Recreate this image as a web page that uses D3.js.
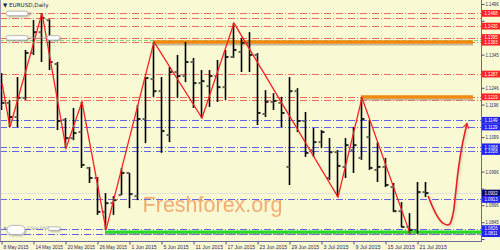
<!DOCTYPE html>
<html><head><meta charset="utf-8">
<script src="https://cdn.jsdelivr.net/npm/d3@7/dist/d3.min.js"></script>
<style>html,body{margin:0;padding:0;background:#f9f9d3;}svg{display:block}</style>
</head><body>
<svg id="c" width="500" height="250"></svg>
<script>
// ---------- data ----------
const dates = ["2015-05-08","2015-05-11","2015-05-12","2015-05-13","2015-05-14","2015-05-15","2015-05-18","2015-05-19","2015-05-20","2015-05-21","2015-05-22","2015-05-25","2015-05-26","2015-05-27","2015-05-28","2015-05-29","2015-06-01","2015-06-02","2015-06-03","2015-06-04","2015-06-05","2015-06-08","2015-06-09","2015-06-10","2015-06-11","2015-06-12","2015-06-15","2015-06-16","2015-06-17","2015-06-18","2015-06-19","2015-06-22","2015-06-23","2015-06-24","2015-06-25","2015-06-26","2015-06-29","2015-06-30","2015-07-01","2015-07-02","2015-07-03","2015-07-06","2015-07-07","2015-07-08","2015-07-09","2015-07-10","2015-07-13","2015-07-14","2015-07-15","2015-07-16","2015-07-17","2015-07-20","2015-07-21","2015-07-22"];
const open  = [1.1239,1.1201,1.1159,1.1216,1.1350,1.1412,1.1448,1.1317,1.1150,1.1096,1.1114,1.1007,1.0977,1.0876,1.0902,1.0926,1.0992,1.0923,1.1153,1.1272,1.1236,1.1105,1.1293,1.1281,1.1323,1.1260,1.1251,1.1281,1.1248,1.1338,1.1353,1.1380,1.1344,1.1168,1.1204,1.1201,1.1010,1.1236,1.1147,1.1060,1.1084,1.0977,1.1054,1.1010,1.1060,1.1037,1.1099,1.1001,1.1010,1.0950,1.0878,1.0831,1.0822,1.0935];
const high  = [1.1290,1.1210,1.1278,1.1359,1.1448,1.1469,1.1450,1.1323,1.1156,1.1186,1.1204,1.1010,1.0980,1.0932,1.0923,1.1007,1.0992,1.1195,1.1278,1.1383,1.1278,1.1308,1.1344,1.1383,1.1335,1.1299,1.1299,1.1329,1.1359,1.1439,1.1395,1.1412,1.1350,1.1239,1.1230,1.1219,1.1278,1.1245,1.1174,1.1126,1.1120,1.1096,1.1060,1.1096,1.1129,1.1216,1.1150,1.1084,1.1037,1.0962,1.0905,1.0872,1.0965,1.0965];
const low   = [1.1180,1.1129,1.1129,1.1210,1.1344,1.1323,1.1299,1.1120,1.1066,1.1090,1.1007,1.0962,1.0867,1.0822,1.0867,1.0926,1.0887,1.0911,1.1081,1.1219,1.1052,1.1084,1.1216,1.1263,1.1186,1.1156,1.1189,1.1204,1.1210,1.1335,1.1293,1.1293,1.1135,1.1159,1.1180,1.1129,1.0956,1.1114,1.1040,1.1040,1.1066,1.0971,1.0920,1.0977,1.0992,1.1031,1.1001,1.0965,1.0950,1.0876,1.0830,1.0811,1.0811,1.0920];
const close = [1.1201,1.1159,1.1216,1.1350,1.1412,1.1454,1.1323,1.1147,1.1096,1.1111,1.1016,1.0977,1.0876,1.0902,1.0911,1.0992,1.0929,1.1153,1.1275,1.1236,1.1117,1.1293,1.1281,1.1323,1.1260,1.1266,1.1281,1.1248,1.1338,1.1359,1.1380,1.1344,1.1171,1.1204,1.1207,1.1171,1.1236,1.1147,1.1052,1.1084,1.1114,1.1054,1.1013,1.1075,1.1075,1.1153,1.1007,1.1010,1.0956,1.0878,1.0831,1.0822,1.0935,1.0932];

const zigIdx   = [0,1,5,8,10,13,19,25,29,42,45,51];
const zigPrice = [1.1260,1.1129,1.1469,1.1066,1.1204,1.0822,1.1383,1.1156,1.1439,1.0920,1.1216,1.0811];

const xTickIdx    = [0,4,8,12,16,20,24,28,32,36,40,44,48,52];
const xTickLabels = ["8 May 2015","14 May 2015","20 May 2015","26 May 2015","1 Jun 2015","5 Jun 2015","11 Jun 2015","17 Jun 2015","23 Jun 2015","29 Jun 2015","3 Jul 2015","9 Jul 2015","15 Jul 2015","21 Jul 2015"];
const yTicks = [1.1496,1.1446,1.1395,1.1345,1.1296,1.1246,1.1196,1.1147,1.1099,1.1049,1.0996,1.0945,1.0896,1.0845,1.0795];

const redLevels      = [1.1468,1.1454,1.1430,1.1395,1.1383,1.1287,1.1219,1.1210];
const redLabelLevels = [1.1468,1.1430,1.1395,1.1383,1.1287,1.1219];
const blueLevels     = [1.1149,1.1129,1.1068,1.1058,1.0913,1.0826,1.0811];
const greenDashLevel = 1.1389;
const bidPrice       = 1.0932;
const greenLevel     = {start:13, price:1.0816};
const orangeLevels   = [{start:19, end:59, price:1.1383},{start:45, end:59, price:1.1219}];
const arrowIdx   = [53.4,54.3,55.2,56.0,56.5,56.8,57.15,57.65,58.25];
const arrowPrice = [1.0923,1.0873,1.0843,1.0838,1.0870,1.0925,1.1000,1.1075,1.1140];
const title = "EURUSD,Daily";
const watermark = "Freshforex.org";

// ---------- chart ----------
const BG = "#f9f9d3";
const PR = 481, PB = 241;
const svg = d3.select("#c");
svg.append("rect").attr("width",500).attr("height",250).attr("fill",BG);

const x = d3.scaleLinear().domain([0, 53]).range([1, 425]);
const y = d3.scaleLinear().domain([1.0795, 1.1496]).range([239, 4]);

const defs = svg.append("defs");
defs.append("clipPath").attr("id","clip").append("rect").attr("x",0).attr("y",0).attr("width",PR).attr("height",PB);
const blur = defs.append("filter").attr("id","sh").attr("x","-20%").attr("y","-50%").attr("width","140%").attr("height","200%");
blur.append("feGaussianBlur").attr("stdDeviation",0.8);
defs.append("marker").attr("id","ah").attr("viewBox","-8 -5 10 10").attr("markerWidth",8).attr("markerHeight",8)
  .attr("refX",0).attr("refY",0).attr("orient","auto").attr("markerUnits","userSpaceOnUse")
  .append("path").attr("d","M-6,-3.5 L0,0 L-6,3.5").attr("fill","none").attr("stroke","#e82020").attr("stroke-width",1.5);

const plot = svg.append("g").attr("clip-path","url(#clip)");

// watermark
plot.append("text").attr("x", x(17.7)).attr("y", y(1.0875)).text(watermark)
  .attr("font-family","Liberation Sans, Arial, sans-serif").attr("font-size",21.5)
  .attr("fill","#f2a468").attr("opacity",0.9);

// level lines
const DD = "7,2,1,2";
function level(p, color, dash, w) {
  plot.append("line").attr("x1",0).attr("x2",PR).attr("y1",Math.round(y(p))+0.5).attr("y2",Math.round(y(p))+0.5)
    .attr("stroke",color).attr("stroke-width",w).attr("stroke-dasharray",dash);
}
redLevels.forEach(p => level(p, "#f06a5e", DD, 1));
blueLevels.forEach(p => level(p, "#6464e6", DD, 1));
level(greenDashLevel, "#7ed87e", "4,2", 1);
level(bidPrice, "#e2e2d8", null, 1);

// orange levels with shadow
orangeLevels.forEach(o => {
  const yy = Math.round(y(o.price));
  plot.append("line").attr("x1",x(o.start)).attr("x2",x(o.end)).attr("y1",yy+2.5).attr("y2",yy+2.5)
    .attr("stroke","#a8a090").attr("stroke-width",2).attr("opacity",0.7);
  plot.append("line").attr("x1",x(o.start)).attr("x2",x(o.end)).attr("y1",yy).attr("y2",yy)
    .attr("stroke","#f28a12").attr("stroke-width",3.5);
});

// green level
{
  const yy = Math.round(y(greenLevel.price));
  plot.append("line").attr("x1",x(greenLevel.start)).attr("x2",PR).attr("y1",yy+2).attr("y2",yy+2)
    .attr("stroke","#8a7a9a").attr("stroke-width",1.5).attr("stroke-dasharray","3,1");
  plot.append("line").attr("x1",x(greenLevel.start)).attr("x2",PR).attr("y1",yy).attr("y2",yy)
    .attr("stroke","#22dd22").attr("stroke-width",3.2);
}

// OHLC bars
const bars = plot.append("g");
dates.forEach((d,i) => {
  const cx = Math.round(x(i)) + 0.5;
  bars.append("line").attr("x1",cx).attr("x2",cx).attr("y1",y(high[i])).attr("y2",y(low[i]))
    .attr("stroke","#000").attr("stroke-width",1.6);
  bars.append("line").attr("x1",cx-3).attr("x2",cx).attr("y1",y(open[i])).attr("y2",y(open[i]))
    .attr("stroke","#666").attr("stroke-width",2);
  bars.append("line").attr("x1",cx).attr("x2",cx+3).attr("y1",y(close[i])).attr("y2",y(close[i]))
    .attr("stroke","#222").attr("stroke-width",2);
});

// zigzag
const zz = zigIdx.map((d,i)=>[d, zigPrice[i]]);
plot.append("path").datum(zz)
  .attr("d", d3.line().x(d=>x(d[0])+1).y(d=>y(d[1])))
  .attr("fill","none").attr("stroke","#ff2020").attr("stroke-width",1.3);

// left trade-label boxes
function tag(x0, yc, w, h) {
  plot.append("rect").attr("x",x0+1).attr("y",yc-h/2+1.2).attr("width",w).attr("height",h).attr("rx",h/2)
    .attr("fill","#777").attr("opacity",0.6).attr("filter","url(#sh)");
  plot.append("rect").attr("x",x0).attr("y",yc-h/2).attr("width",w).attr("height",h).attr("rx",h/2)
    .attr("fill","#fff").attr("stroke","#aaa").attr("stroke-width",0.8);
}
const tinyFont = "DejaVu Sans, sans-serif";
tag(6, y(1.1468), 22, 4.5);
plot.append("text").attr("x",29).attr("y",y(1.1468)+1.8).text("p").attr("font-size",4.5).attr("font-family",tinyFont).attr("fill","#8888aa");
tag(6, y(1.1395), 22, 4.5);
plot.append("text").attr("x",30).attr("y",y(1.1395)+1.5).text("sell limit").attr("font-size",4.2).attr("font-family",tinyFont).attr("fill","#9a9aa8");
tag(47, y(1.1395), 13, 4.5);
plot.append("text").attr("x",3).attr("y",y(1.0826)+1.5).text("#").attr("font-size",4.5).attr("font-family",tinyFont).attr("fill","#6666aa");
tag(7, y(1.0822), 18, 9);
plot.append("text").attr("x",27).attr("y",y(1.0826)).text("2 buy limit").attr("font-size",4.2).attr("font-family",tinyFont).attr("fill","#9a9aa8");
tag(48, y(1.0826), 12, 3.5);

// title
svg.append("text").attr("x",3).attr("y",7).text("\u25BC " + title)
  .attr("font-family",tinyFont).attr("font-size",5.6).attr("fill","#202050");

// frame / axes
svg.append("line").attr("x1",0.5).attr("x2",0.5).attr("y1",0).attr("y2",PB).attr("stroke","#9a9ab4").attr("stroke-width",1);
svg.append("line").attr("x1",PR+0.5).attr("x2",PR+0.5).attr("y1",0).attr("y2",PB).attr("stroke","#6a6a9a").attr("stroke-width",1);
svg.append("line").attr("x1",0).attr("x2",PR+1).attr("y1",PB+0.5).attr("y2",PB+0.5).attr("stroke","#6a6a9a").attr("stroke-width",1);

const axisFont = "Liberation Sans, Arial, sans-serif";
const labelled = redLabelLevels.concat(blueLevels, [bidPrice]);
const hidden = d => labelled.some(p => Math.abs(y(p) - y(d)) < 5.5);
const yAx = svg.append("g").attr("transform",`translate(${PR+0.5},0)`)
  .call(d3.axisRight(y).tickValues(yTicks).tickFormat(d => hidden(d) ? "" : d3.format(".4f")(d)).tickSize(3).tickPadding(1));
yAx.select(".domain").remove();
yAx.selectAll("line").attr("stroke","#4a4a8a");
yAx.selectAll("text").attr("font-family",axisFont).attr("font-size",4.8).attr("fill","#2a2a6a")
  .attr("textLength",d => hidden(d) ? null : 13).attr("lengthAdjust","spacingAndGlyphs");

const xAx = svg.append("g").attr("transform",`translate(0,${PB+0.5})`)
  .call(d3.axisBottom(x).tickValues(xTickIdx).tickFormat((d,i)=>xTickLabels[i]).tickSize(3).tickPadding(1));
xAx.select(".domain").remove();
xAx.selectAll("line").attr("stroke","#4a4a8a").attr("transform","translate(0.5,0)");
xAx.selectAll("text").attr("font-family",axisFont).attr("font-size",5.0).attr("fill","#2a2a6a")
  .attr("text-anchor","start").attr("dx",2)
  .attr("textLength",(d,i)=>xTickLabels[i].length*2.5).attr("lengthAdjust","spacingAndGlyphs");

// price labels on axis (nudged apart so texts never collide)
const plabels = redLabelLevels.map(p=>({p, fill:"#ff2424"}))
  .concat(blueLevels.map(p=>({p, fill:"#2525f0"})), [{p:bidPrice, fill:"#0a0a6e"}])
  .map(d => ({...d, yy: y(d.p)})).sort((a,b)=>a.yy-b.yy);
for (let i=1;i<plabels.length;i++) {
  if (plabels[i].yy - plabels[i-1].yy < 4.6) {
    const mid = (plabels[i].yy + plabels[i-1].yy)/2;
    plabels[i-1].yy = mid - 2.3; plabels[i].yy = mid + 2.3;
  }
}
plabels.forEach(d => {
  svg.append("rect").attr("x",PR+1).attr("y",d.yy-3.4).attr("width",19).attr("height",6.8).attr("fill",d.fill);
});
plabels.forEach(d => {
  svg.append("rect").attr("x",PR+1).attr("y",d.yy-2.6).attr("width",19).attr("height",5.2).attr("fill",d.fill);
  svg.append("text").attr("x",PR+3.5).attr("y",d.yy+1.7).text(d3.format(".4f")(d.p))
    .attr("font-family",axisFont).attr("font-size",4.6).attr("fill","#fff")
    .attr("textLength",13).attr("lengthAdjust","spacingAndGlyphs");
});

// hand-drawn arrow
const ap = arrowIdx.map((d,i)=>[d, arrowPrice[i]]);
const aLine = d3.line().x(d=>x(d[0])).y(d=>y(d[1])).curve(d3.curveCatmullRom);
svg.append("path").datum(ap).attr("d",aLine).attr("transform","translate(1,1.5)")
  .attr("fill","none").attr("stroke","#999").attr("stroke-width",1.6).attr("opacity",0.45).attr("filter","url(#sh)");
svg.append("path").datum(ap).attr("d",aLine)
  .attr("fill","none").attr("stroke","#e82020").attr("stroke-width",1.6).attr("marker-end","url(#ah)");
</script>
</body></html>
